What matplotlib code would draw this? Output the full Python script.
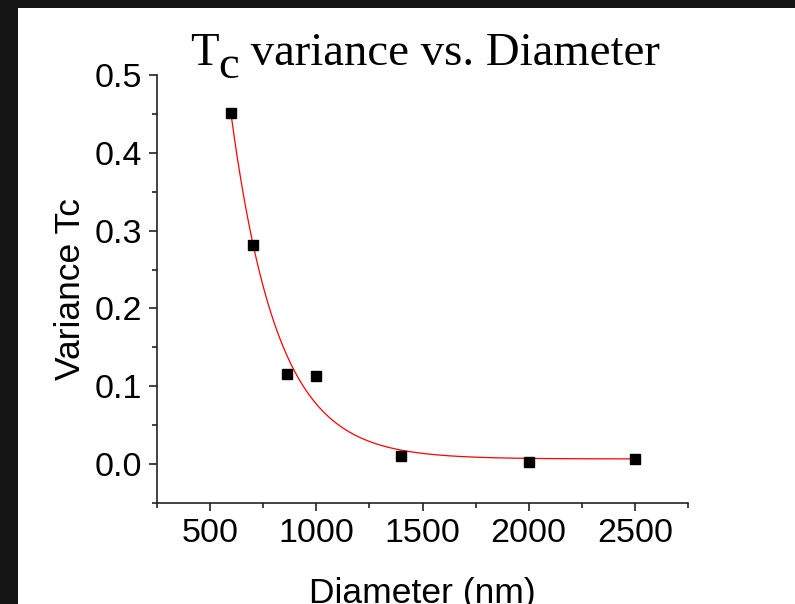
import numpy as np
import matplotlib
matplotlib.use("Agg")
import matplotlib.pyplot as plt
from matplotlib.patches import Rectangle
from matplotlib.ticker import MultipleLocator, FormatStrFormatter
from matplotlib.transforms import offset_copy

diameter = [600, 700, 860, 1000, 1400, 2000, 2500]
variance_tc = [0.451, 0.282, 0.116, 0.113, 0.011, 0.003, 0.006]


def fit_exp_decay(x, y):
    # y = y0 + A*exp(-(x - x[0])/t), grid search on t, linear lstsq for y0, A
    x = np.asarray(x, float)
    y = np.asarray(y, float)
    best = None
    for t in np.linspace(50, 1000, 1901):
        M = np.column_stack([np.ones_like(x), np.exp(-(x - x[0]) / t)])
        coef, *_ = np.linalg.lstsq(M, y, rcond=None)
        err = np.sum((M @ coef - y) ** 2)
        if best is None or err < best[0]:
            best = (err, t, coef)
    _, t, (y0, a) = best
    return lambda xx: y0 + a * np.exp(-(xx - x[0]) / t)


plt.rcParams['font.family'] = ['Liberation Sans', 'DejaVu Sans']

fig = plt.figure(figsize=(7.95, 6.04), dpi=100)
fig.patch.set_facecolor('#141414')
fig.patches.append(Rectangle((18 / 795, 0), 1, (604 - 8) / 604,
                             transform=fig.transFigure, facecolor='white',
                             edgecolor='none', zorder=-5))

ax = fig.add_axes([157 / 795, 101 / 604, 531 / 795, 428 / 604])
ax.set_zorder(2)
ax.set_facecolor('none')

f = fit_exp_decay(diameter, variance_tc)
xs = np.linspace(min(diameter), max(diameter), 400)
ax.plot(xs, f(xs), color='red', lw=0.9, zorder=2)
ax.plot(diameter, variance_tc, 's', color='black', ms=7, zorder=3)

ax.set_xlim(250, 2750)
ax.set_ylim(-0.05, 0.5)
ax.xaxis.set_minor_locator(MultipleLocator(250))
ax.yaxis.set_minor_locator(MultipleLocator(0.05))
ax.set_xticks([500, 1000, 1500, 2000, 2500])
ax.set_yticks([0.0, 0.1, 0.2, 0.3, 0.4, 0.5])
ax.yaxis.set_major_formatter(FormatStrFormatter('%.1f'))

for s in ('top', 'right'):
    ax.spines[s].set_visible(False)
for s in ('left', 'bottom'):
    ax.spines[s].set_linewidth(1.2)
    ax.spines[s].set_color('#222222')

ax.tick_params(which='major', direction='out', length=6, width=1.2,
               labelsize=24.5, color='#222222', pad=5)
ax.tick_params(which='minor', direction='out', length=3.5, width=1.2,
               color='#222222')

ax.set_xlabel('Diameter (nm)', fontsize=25.5, labelpad=20)
ax.set_ylabel('Variance Tc', fontsize=25.5, labelpad=5)

# title: "T" + lowered "c" + rest, Times-like serif
title_kw = dict(fontsize=33.7, family=['Liberation Serif', 'DejaVu Serif'],
                va='baseline', ha='left')
renderer = fig.canvas.get_renderer()
x0, base = 190 / 795, (604 - 65) / 604
t1 = fig.text(x0, base, 'T', **title_kw)
w1 = t1.get_window_extent(renderer).width
t2 = fig.text(x0, base, 'c',
              transform=offset_copy(fig.transFigure, fig, x=w1, y=-13, units='dots'),
              **title_kw)
w2 = t2.get_window_extent(renderer).width
fig.text(x0, base, ' variance vs. Diameter',
         transform=offset_copy(fig.transFigure, fig, x=w1 + w2, y=0, units='dots'),
         **title_kw)

fig.savefig('out.png', dpi=100, facecolor=fig.get_facecolor())
